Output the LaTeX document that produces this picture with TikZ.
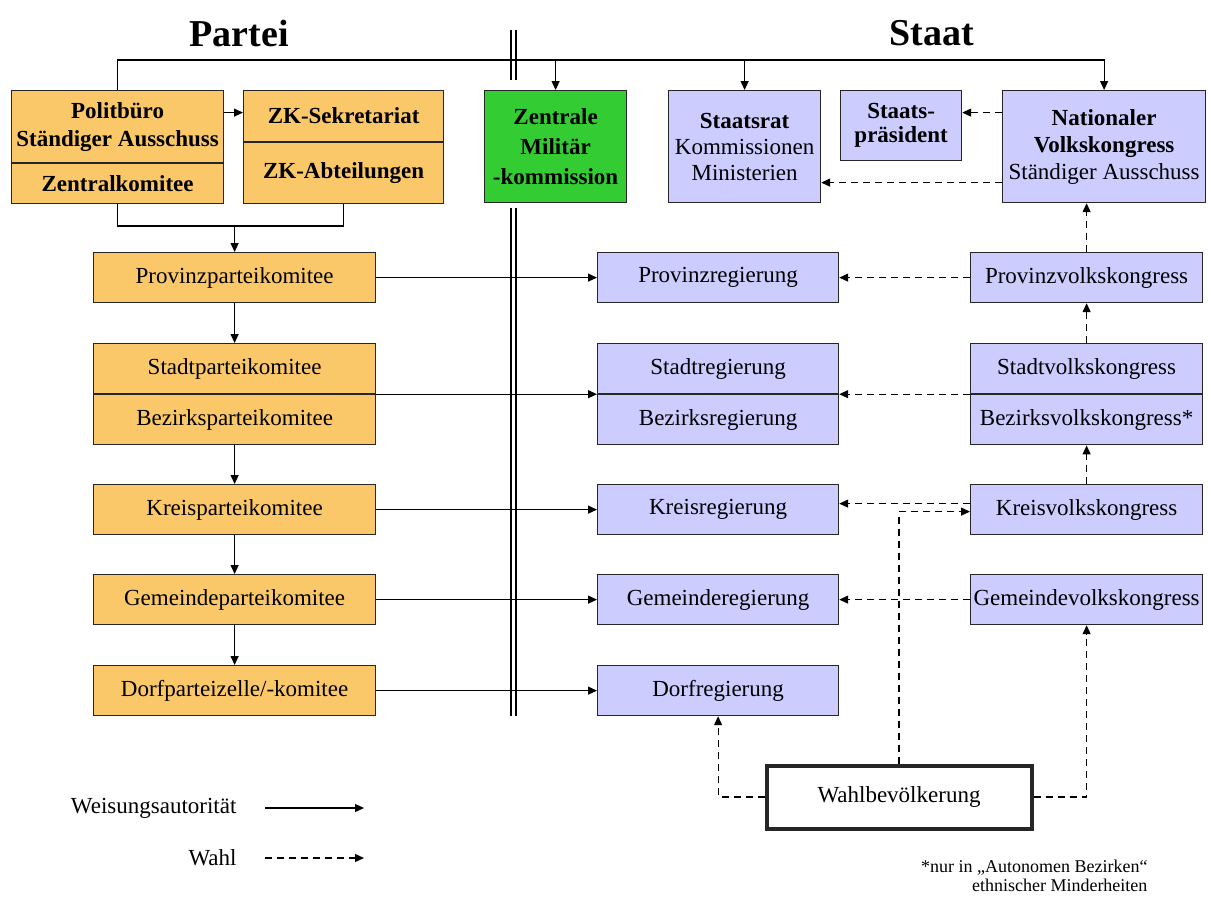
\documentclass[tikz,border=0pt]{standalone}
\usepackage{fontspec}
\setmainfont{Liberation Serif}
\usetikzlibrary{arrows.meta, positioning}

\definecolor{parteiorange}{RGB}{250,200,104}
\definecolor{staatlila}{RGB}{204,204,255}
\definecolor{militaergruen}{RGB}{51,204,51}

\tikzset{
  box/.style={draw=black!85, line width=1.2pt, inner sep=0pt, align=center,
    font=\fontsize{23}{26}\selectfont},
  fett/.style={font=\fontsize{23}{28}\selectfont\bfseries},
  partei/.style={box, fill=parteiorange, minimum width=282pt, minimum height=50pt},
  regierung/.style={box, fill=staatlila, minimum width=241pt, minimum height=50pt},
  kongress/.style={box, fill=staatlila, minimum width=232pt, minimum height=50pt},
  weisung/.style={->, line width=1.2pt},
  wahlpfeil/.style={->, line width=1.2pt, dash pattern=on 7pt off 5pt},
  titel/.style={font=\fontsize{38}{42}\selectfont\bfseries},
}

\begin{document}
\begin{tikzpicture}[>={Triangle[length=9pt,width=8pt]}, x=1pt, y=-1pt]
\useasboundingbox (0,0) rectangle (1209,898);
% Ueberschriften
\node[titel] (partei) at (239,33) {Partei};
\node[titel] (staat) at (932,33) {Staat};
%
% zentrale Ebene
\node[box, fett, fill=parteiorange, minimum width=212pt, minimum height=72pt, anchor=north west] (polit) at (11,90) {Politbüro\\Ständiger Ausschuss};
\node[box, fett, fill=parteiorange, minimum width=212pt, minimum height=40pt, below=0pt of polit] (zentralk) {Zentralkomitee};
\node[box, fett, fill=parteiorange, minimum width=200pt, minimum height=51pt, anchor=north west] (zksek) at (243,90) {ZK-Sekretariat};
\node[box, fett, fill=parteiorange, minimum width=200pt, minimum height=61pt, below=0pt of zksek] (zkabt) {ZK-Abteilungen};
\node[box, font=\fontsize{23}{30}\selectfont\bfseries, fill=militaergruen, minimum width=142pt, minimum height=112pt, anchor=north west] (zmk) at (484,90) {Zentrale\\Militär\\-kommission};
\node[box, fill=staatlila, minimum width=152pt, minimum height=112pt, anchor=north west] (staatsrat) at (668,90) {\textbf{Staatsrat}\\Kommissionen\\Ministerien};
\node[box, fett, fill=staatlila, minimum width=121pt, minimum height=70pt, anchor=north west, font=\fontsize{23}{24}\selectfont\bfseries] (praesident) at (840,90) {Staats-\\präsident};
\node[box, fill=staatlila, minimum width=203pt, minimum height=112pt, anchor=north west, font=\fontsize{23}{27}\selectfont] (nvk) at (1002,90) {\textbf{Nationaler}\\\textbf{Volkskongress}\\Ständiger Ausschuss};
%
% Partei
\node[partei, anchor=north west] (provpk) at (93,252) {Provinzparteikomitee};
\node[partei, anchor=north west] (stadtpk) at (93,343) {Stadtparteikomitee};
\node[partei, below=0pt of stadtpk] (bezirkpk) {Bezirksparteikomitee};
\node[partei, anchor=north west] (kreispk) at (93,484) {Kreisparteikomitee};
\node[partei, anchor=north west] (gempk) at (93,574) {Gemeindeparteikomitee};
\node[partei, anchor=north west] (dorfpk) at (93,665) {Dorfparteizelle/-komitee};
%
% Regierung
\node[regierung, anchor=north west] (provreg) at (597,252) {Provinzregierung};
\node[regierung, anchor=north west] (stadtreg) at (597,343) {Stadtregierung};
\node[regierung, below=0pt of stadtreg] (bezirkreg) {Bezirksregierung};
\node[regierung, anchor=north west] (kreisreg) at (597,484) {Kreisregierung};
\node[regierung, anchor=north west] (gemreg) at (597,574) {Gemeinderegierung};
\node[regierung, anchor=north west] (dorfreg) at (597,665) {Dorfregierung};
%
% Volkskongresse
\node[kongress, anchor=north west] (provvk) at (970,252) {Provinzvolkskongress};
\node[kongress, anchor=north west] (stadtvk) at (970,343) {Stadtvolkskongress};
\node[kongress, below=0pt of stadtvk] (bezirkvk) {Bezirksvolkskongress*};
\node[kongress, anchor=north west] (kreisvk) at (970,484) {Kreisvolkskongress};
\node[kongress, anchor=north west] (gemvk) at (970,574) {Gemeindevolkskongress};
%
\node[box, fill=white, line width=4pt, minimum width=265pt, minimum height=63pt] (wahl) at (899,797) {Wahlbevölkerung};
%
% Weisungen
\coordinate (top) at (0,60);
\coordinate (mitte) at (0,226);
\draw[weisung] (polit.north) |- (top -| nvk.north) -- (nvk.north);
\foreach \n in {zmk, staatsrat}
  \draw[weisung] (top -| \n.north) -- (\n.north);
\coordinate (pz) at ([yshift=14pt]polit.east);
\draw[weisung] (pz) -- (pz -| zksek.west);
\draw[line width=1.2pt] (zentralk.south) |- (mitte -| zkabt.south) -- (zkabt.south);
\draw[weisung] (mitte -| provpk.north) -- (provpk.north);
\draw[weisung] (provpk) -- (stadtpk);
\draw[weisung] (bezirkpk) -- (kreispk);
\draw[weisung] (kreispk) -- (gempk);
\draw[weisung] (gempk) -- (dorfpk);
\foreach \a/\b in {provpk/provreg, kreispk/kreisreg, gempk/gemreg, dorfpk/dorfreg}
  \draw[weisung] (\a) -- (\b);
\draw[weisung] (stadtpk.south east) -- (stadtreg.south west);
%
% Trennlinie
\foreach \x in {511,516} {
  \draw[line width=1.2pt] (\x,30) -- (\x,80);
  \draw[line width=1.2pt] (\x,208) -- (\x,716);
}
%
% Wahlen
\coordinate (np) at ([yshift=34pt]nvk.west);
\coordinate (ns) at ([yshift=-36pt]nvk.west);
\draw[wahlpfeil] (np) -- (np -| praesident.east);
\draw[wahlpfeil] (ns) -- (ns -| staatsrat.east);
\draw[wahlpfeil] (provvk.north) -- (provvk.north |- nvk.south);
\draw[wahlpfeil] (stadtvk) -- (provvk);
\draw[wahlpfeil] (kreisvk) -- (bezirkvk);
\draw[wahlpfeil] (provvk) -- (provreg);
\draw[wahlpfeil] (stadtvk.south west) -- (stadtreg.south east);
\coordinate (kv1) at ([yshift=6pt]kreisvk.west);
\coordinate (kv2) at ([yshift=-2pt]kreisvk.west);
\draw[wahlpfeil] (kv1) -- (kv1 -| kreisreg.east);
\draw[wahlpfeil] (gemvk) -- (gemreg);
\draw[wahlpfeil] (wahl.north) |- (kv2);
\draw[wahlpfeil] (wahl.west) -| (dorfreg.south);
\draw[wahlpfeil] (wahl.east) -| (gemvk.south);
%
% Legende
\node[anchor=east, font=\fontsize{23}{26}\selectfont] (legweisung) at (240,808) {Weisungsautorität};
\node[anchor=east, font=\fontsize{23}{26}\selectfont] (legwahl) at (240,858) {Wahl};
\coordinate (lw1) at (265,808);
\coordinate (lw2) at (364,808);
\coordinate (lv1) at (265,858);
\coordinate (lv2) at (364,858);
\draw[weisung] (lw1) -- (lw2);
\draw[wahlpfeil] (lv1) -- (lv2);
\node[anchor=east, align=right, font=\fontsize{18}{19}\selectfont] (fussnote) at (1151,876) {*nur in „Autonomen Bezirken“\\ethnischer Minderheiten};
\end{tikzpicture}
\end{document}
